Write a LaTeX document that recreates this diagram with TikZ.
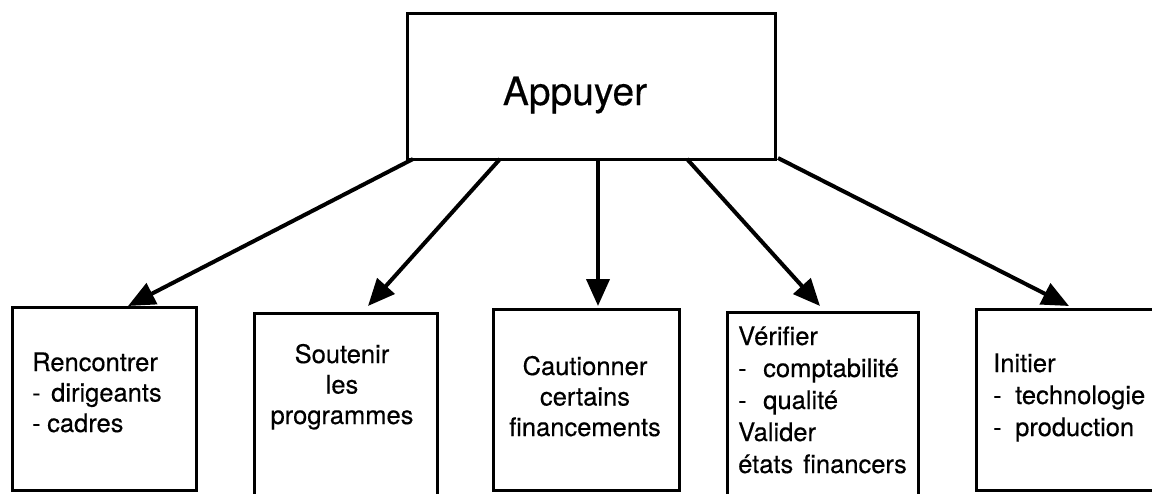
\documentclass[tikz,border=0pt]{standalone}
\usepackage{fontspec}
\setmainfont{TeX Gyre Heros}[FakeBold=0.4]
\usetikzlibrary{arrows.meta}
\begin{document}
\begin{tikzpicture}[x=1pt,y=-1pt,
  box/.style={draw,line width=3pt,inner sep=0pt,outer sep=0pt},
  arr/.style={line width=4pt,-{Triangle[length=27pt,width=23pt]}},
  txt/.style={inner sep=0pt,anchor=base west,font=\fontsize{25.5}{30.5}\selectfont},
  ctxt/.style={inner sep=0pt,anchor=base,font=\fontsize{25.5}{30.5}\selectfont},
  big/.style={inner sep=0pt,anchor=base,font=\fontsize{39}{44}\selectfont}
]
\useasboundingbox (0,0) rectangle (1152,493);
\clip (0,0) rectangle (1152,493);
% boxes
\node[box,minimum width=368pt,minimum height=146pt] (top) at (591,86) {};
\node[box,minimum width=184pt,minimum height=183pt] (b1) at (104,398.5) {};
\node[box,minimum width=183pt,minimum height=207pt] (b2) at (345.5,416.5) {};
\node[box,minimum width=186pt,minimum height=181pt] (b3) at (586,399.5) {};
\node[box,minimum width=191pt,minimum height=208pt] (b4) at (822.5,416) {};
\node[box,minimum width=189pt,minimum height=181pt] (b5) at (1070.5,399.5) {};
% texts
\node[big] (ttop) at (575,105) {Appuyer};
\node[txt] (t1) at (32,371) {\parbox[t]{170pt}{\raggedright Rencontrer\\
  \makebox[19pt][l]{-}dirigeants\\
  \makebox[15pt][l]{-}cadres}};
\node[ctxt] (t2) at (342,363) {\parbox[t]{180pt}{\centering Soutenir\\ les\\ programmes}};
\node[ctxt] (t3) at (585,375) {\parbox[t]{180pt}{\centering Cautionner\\ certains\\ financements}};
\node[txt,font=\fontsize{25.5}{32}\selectfont] (t4) at (738,345) {\parbox[t]{185pt}{\raggedright V\'erifier\\
  \makebox[25pt][l]{-}comptabilit\'e\\
  \makebox[25pt][l]{-}qualit\'e\\
  Valider\\
  \'etats\hspace{10pt}financers}};
\node[txt,font=\fontsize{25.5}{32}\selectfont] (t5) at (993,372) {\parbox[t]{160pt}{\raggedright Initier\\
  \makebox[22pt][l]{-}technologie\\
  \makebox[22pt][l]{-}production}};
% arrows
\draw[arr] ([xshift=6pt]top.south west) -- ([xshift=116pt,yshift=1pt]b1.north west);
\draw[arr] ([xshift=93pt]top.south west) -- ([xshift=114pt,yshift=7pt]b2.north west);
\draw[arr] ([xshift=191pt]top.south west) -- ([xshift=105pt,yshift=3pt]b3.north west);
\draw[arr] ([xshift=280pt]top.south west) -- ([xshift=93pt,yshift=6pt]b4.north west);
\draw[arr] ([xshift=3pt,yshift=1pt]top.south east) -- ([xshift=93pt,yshift=3pt]b5.north west);
\end{tikzpicture}
\end{document}
